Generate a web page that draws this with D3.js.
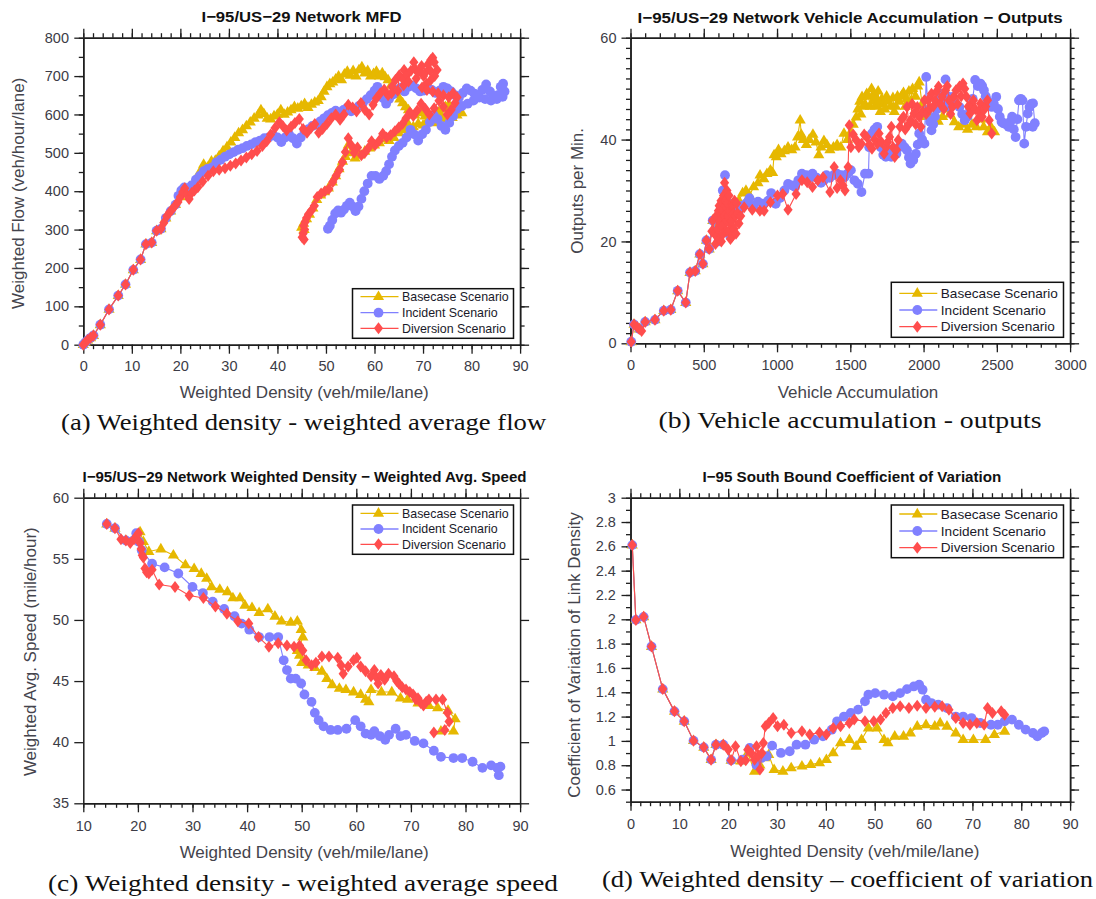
<!DOCTYPE html>
<html>
<head>
<meta charset="utf-8">
<script src="https://cdn.jsdelivr.net/npm/d3@7"></script>
<style>
  body { margin: 0; background: #fff; }
  svg { display: block; }
  .tick text { font-family: "Liberation Sans", Arial, sans-serif; }
</style>
</head>
<body>
<svg id="fig" width="1096" height="899"></svg>
<script>
// ---------- series shared by all panels ----------
const scenarioNames = ["Basecase Scenario", "Incident Scenario", "Diversion Scenario"];
const scenarioColors = ["#e6b800", "#8080ff", "#ff4d4d"];
const scenarioMarkers = ["triangle", "circle", "diamond"];

// ---------- (a) weighted density vs weighted flow ----------
const mfdXTicks = [0, 10, 20, 30, 40, 50, 60, 70, 80, 90];
const mfdYTicks = [0, 100, 200, 300, 400, 500, 600, 700, 800];
const mfdBasecase = [[0,0],[0.4,6],[0.9,12],[1.5,18],[2.1,24],[3.5,52],[5.3,92],[7.2,128],[8.7,157],[10.3,195],[11.8,222],[12.9,262],[14.1,266],[15.1,297],[16,302],[17,330],[18,348],[19,365],[20,385],[21,400],[22,412],[23,425],[24,450],[24.8,470],[25.6,462],[26.4,478],[27.2,480],[28,492],[28.8,505],[29.6,515],[30.4,528],[31.2,540],[32,552],[32.8,560],[33.6,570],[34.4,580],[35.2,590],[36,598],[36.6,612],[37.2,602],[37.9,590],[38.6,588],[39.3,596],[40,600],[40.7,612],[41.4,600],[42.1,606],[42.8,612],[43.5,620],[44.2,616],[44.9,622],[45.6,628],[46.3,618],[47,626],[47.7,632],[48.4,636],[49,646],[49.6,660],[50.2,672],[50.8,680],[51.4,684],[52,692],[52.6,700],[53.2,690],[53.8,705],[54.4,712],[55,702],[55.6,714],[56.2,700],[56.8,716],[57.4,724],[58,708],[58.6,714],[59.2,700],[59.8,706],[60.4,712],[61,700],[61.6,708],[62.2,698],[62.8,690],[63.4,676],[64,662],[64.6,652],[65.2,640],[65.8,630],[66.4,620],[67,612],[67.6,600],[68.3,598],[69,604],[69.7,610],[70.4,596],[71.1,588],[71.8,580],[72.5,596],[73.2,606],[73.9,614],[74.6,620],[75.3,626],[76,618],[76.7,610],[77.4,620],[78,604],[77,598],[76,592],[75,588],[74,592],[73,584],[72,578],[71,582],[70,572],[69,576],[68,568],[67,574],[66,560],[65,552],[64,540],[63,532],[62,536],[61,526],[60,520],[59,512],[58,504],[57,494],[56,486],[55.2,500],[54.6,520],[54,490],[53.4,478],[52.7,458],[52,440],[51.3,424],[50.5,408],[49.7,398],[48.9,390],[48.1,378],[47.3,356],[46.6,340],[46,328],[45.4,316],[45,306],[45.5,300]];
const mfdIncident = [[0,0],[0.4,6],[0.9,12],[1.5,18],[2.1,24],[3.5,52],[5.3,92],[7.2,128],[8.7,157],[10.3,195],[11.8,222],[12.9,262],[14.1,266],[15.1,297],[16,302],[17,330],[18,348],[19,365],[19.6,388],[20.2,402],[20.8,410],[21.5,398],[22.3,415],[23.2,430],[24,440],[24.8,452],[25.6,458],[26.5,462],[27.4,475],[28.3,482],[29.2,490],[30.1,496],[31,502],[31.9,508],[32.8,512],[33.7,518],[34.6,522],[35.5,528],[36.4,532],[37.3,538],[38.2,540],[39.1,546],[40,540],[40.8,528],[41.6,540],[42.4,548],[43.2,538],[44,524],[44.8,540],[45.6,556],[46.4,562],[47.2,570],[48,574],[48.8,582],[49.6,590],[50.4,598],[51.2,604],[52,610],[52.8,602],[53.6,612],[54.4,618],[55.2,608],[56,614],[56.8,622],[57.6,630],[58.4,640],[59.2,650],[60,662],[60.6,672],[61.2,660],[61.8,642],[62.4,628],[63,640],[63.8,652],[64.6,664],[65.4,670],[66.2,660],[67,672],[67.8,676],[68.6,668],[69.4,660],[70.2,662],[71,668],[71.8,664],[72.6,656],[73.4,662],[74.2,672],[75,668],[75.8,660],[76.6,650],[77.4,644],[78.2,656],[79,668],[79.8,662],[80.6,654],[81.4,650],[82.2,664],[83,678],[83.8,660],[84.6,648],[85.4,650],[86,672],[86.5,680],[86.8,660],[86.4,646],[85.2,640],[84,636],[82.8,640],[81.6,644],[80.4,636],[79.2,628],[78,622],[77,614],[76.2,596],[75.4,578],[74.6,560],[73.8,570],[73,588],[72.2,598],[71.4,580],[70.6,560],[69.8,548],[69,532],[68.2,548],[67.4,560],[66.6,540],[65.8,526],[65,518],[64.2,506],[63.6,490],[63,470],[62.4,452],[61.8,440],[61,432],[60.2,440],[59.4,440],[58.6,420],[57.9,400],[57.3,380],[56.7,360],[56.1,348],[55.5,360],[54.9,370],[54.3,362],[53.7,352],[53.1,344],[52.5,350],[51.9,342],[51.3,325],[50.8,310],[50.4,302]];
const mfdDiversion = [[0,0],[0.4,6],[0.9,12],[1.5,18],[2.1,24],[3.5,52],[5.3,92],[7.2,128],[8.7,157],[10.3,195],[11.8,222],[12.9,262],[14.1,266],[15.1,297],[16,302],[16.6,318],[17.2,335],[17.8,345],[18.3,352],[18.9,362],[19.5,372],[20,385],[20.5,398],[20.9,408],[21.3,392],[21.8,380],[22.3,395],[22.9,402],[23.6,410],[24.6,425],[25.7,440],[26.8,452],[28,456],[29.2,460],[30.3,466],[31.4,472],[32.5,480],[33.6,488],[34.7,496],[35.8,505],[36.9,518],[37.8,530],[38.6,548],[39.5,565],[40.4,580],[41.1,570],[41.9,558],[42.8,568],[43.6,578],[44.5,588],[45.3,562],[46.1,552],[46.9,565],[47.7,575],[48.5,552],[49.3,562],[50.2,575],[51.1,590],[52,600],[52.9,586],[53.7,600],[54.6,625],[55.5,618],[56.3,608],[57.2,630],[58,612],[58.9,600],[59.7,625],[60.4,642],[61.2,655],[62,665],[62.8,650],[63.6,672],[64.3,690],[63.5,655],[64.8,662],[65.1,702],[66,676],[65.9,692],[66.1,716],[66.7,704],[67,686],[67.5,714],[68.1,736],[68.3,720],[68.6,694],[69,710],[69.7,726],[70.1,700],[70.4,708],[71,730],[71.5,714],[71.6,742],[72,748],[72.3,736],[72.9,716],[72.4,700],[71.6,690],[70.7,680],[69.8,670],[70.8,664],[72,660],[73.1,655],[74.2,650],[75.3,645],[76.2,655],[77,645],[76.6,630],[75.8,612],[75,600],[74.2,620],[73.3,636],[72.3,616],[71.3,600],[70.5,614],[69.6,628],[68.8,610],[68,596],[67.3,606],[66.5,590],[65.8,576],[65,566],[64.2,556],[63.3,546],[62.5,540],[61.7,550],[61,532],[60.1,520],[59.4,530],[58.7,512],[58,500],[57.3,494],[56.5,514],[55.8,500],[55.2,520],[54.6,538],[54,502],[53.4,476],[52.8,456],[52.1,440],[51.4,424],[50.6,406],[49.8,400],[49,394],[48.2,385],[47.6,362],[47,350],[46.4,340],[46,330],[45.7,320],[45.4,310],[45.6,300],[45.3,290],[45.1,280],[45.5,274]];

// ---------- (b) vehicle accumulation vs outputs ----------
const accXTicks = [0, 500, 1000, 1500, 2000, 2500, 3000];
const accYTicks = [0, 20, 40, 60];
const accBasecase = [[5,0.3],[24,3.7],[60,2.8],[100,4.2],[167,4.6],[227,6.4],[275,6.6],[322,10.3],[377,8],[406,13.9],[442,14.2],[473,17.5],[494,15.6],[518,20.2],[537,18.5],[561,24.1],[590,23],[620,26],[650,28],[680,25],[710,27],[740,28],[765,29.5],[788,30],[812,29],[840,30.7],[870,31.5],[884,33],[910,32.3],[931,33.3],[955,34],[970,33.5],[980,37],[995,36.6],[1010,38],[1027,37.2],[1050,37.8],[1075,38.5],[1100,38],[1123,38.5],[1140,40.5],[1158,43.8],[1165,41],[1180,40],[1200,39],[1220,40],[1245,41],[1266,39.5],[1285,37],[1300,38.5],[1320,39.8],[1340,39],[1361,38],[1385,38.5],[1410,39],[1435,38.5],[1457,41.2],[1480,40],[1504,41.5],[1520,43],[1540,44.4],[1552,46],[1565,47.5],[1572,45],[1580,48.4],[1592,46.5],[1600,47],[1612,49],[1624,48.5],[1635,46.5],[1645,50],[1652,47.5],[1660,49],[1670,46.5],[1680,48],[1690,49.5],[1696,47],[1705,45.5],[1715,48],[1725,47],[1735,46],[1748,48.5],[1760,47.5],[1775,46.5],[1791,48.2],[1800,45.5],[1810,46.5],[1822,48.5],[1835,47.5],[1850,48.6],[1863,49.2],[1875,46.5],[1885,48],[1900,49.5],[1912,47.5],[1925,50],[1945,48.5],[1960,50.5],[1970,51.3],[1990,47],[2006,44.5],[2030,45],[2055,44],[2080,45],[2100,43.6],[2130,44.5],[2150,46],[2180,45],[2210,43.5],[2240,42.5],[2270,43],[2300,42],[2330,43],[2360,42.5],[2390,44],[2410,42.5],[2436,41.5],[2460,42.5],[2484,41.5]];
const accIncident = [[5,0.3],[24,3.7],[60,2.8],[100,4.2],[167,4.6],[227,6.4],[275,6.6],[322,10.3],[377,8],[406,13.9],[442,14.2],[473,17.5],[494,15.6],[518,20.2],[537,18.5],[561,24.1],[580,22],[600,20],[615,26],[630,30],[645,33],[655,28],[665,24],[680,21],[700,25],[720,27],[740,26],[760,27],[790,27.5],[812,28.5],[840,27],[870,27.8],[907,27.4],[940,28],[960,29.5],[991,27.4],[1020,28.5],[1050,30],[1075,31.3],[1100,31],[1123,30.7],[1145,32],[1170,33.3],[1200,33],[1220,32.5],[1242,33.3],[1270,32.5],[1300,31.5],[1320,32],[1337,33],[1360,32.5],[1385,33],[1409,33.3],[1440,33],[1460,32.6],[1481,33.3],[1504,34],[1528,32],[1552,31.3],[1576,29.7],[1600,33.3],[1624,33.3],[1629,38.5],[1648,41.2],[1665,42],[1684,42.5],[1708,38.5],[1725,37],[1743,36.6],[1760,38],[1779,36.6],[1797,38],[1815,37.2],[1833,38.5],[1851,39.2],[1870,38.5],[1887,37.9],[1900,36.5],[1911,35.3],[1930,36],[1947,37.2],[1960,39],[1970,41.2],[1990,40],[2006,39.2],[2018,52.3],[2030,45.8],[2045,43.5],[2054,41.8],[2066,43],[2078,44.5],[2090,46],[2102,47.7],[2120,49],[2138,47.7],[2150,51.8],[2162,48.5],[2174,46.4],[2186,47.5],[2197,48.4],[2220,47],[2245,46.4],[2263,45],[2281,43.8],[2300,44.5],[2317,45.8],[2335,48],[2352,51.7],[2370,50.5],[2388,51],[2400,50.5],[2412,49.7],[2424,48.5],[2436,47.7],[2450,47],[2465,46.4],[2480,47],[2496,48.4],[2508,46],[2520,44.5],[2532,43.5],[2544,43.2],[2562,43],[2580,42.5],[2592,43.5],[2604,44.5],[2616,42],[2628,40.5],[2640,44],[2651,47.7],[2663,48],[2675,47.7],[2687,39.2],[2699,42.5],[2711,45.1],[2723,46.4],[2735,47],[2747,47.1],[2759,43.2],[2745,42.5]];
const accDiversion = [[5,0.3],[24,3.7],[45,3.2],[60,2.8],[76,2.4],[100,4.2],[167,4.6],[227,6.4],[275,6.6],[322,10.3],[377,8],[406,13.9],[442,14.2],[473,17.5],[494,15.6],[518,20.2],[537,18.5],[555,22],[561,24.1],[573,21.5],[580,19.5],[585,25],[590,21],[595,22.5],[600,26],[605,27],[610,20.5],[612,24],[618,28],[620,20],[625,23],[628,26],[632,21.5],[635,29],[640,25],[642,31.5],[645,27],[648,28],[652,22],[655,24],[658,30],[662,27.5],[665,25],[668,22],[672,29],[675,26],[678,23.5],[682,20.5],[686,27],[690,24],[694,21],[698,27],[702,25.5],[706,22.5],[710,28],[715,25],[720,21.5],[725,27.5],[732,25.5],[740,23.5],[752,25],[776,26.7],[831,26.2],[883,26],[912,26],[955,27.7],[1003,29],[1039,29.3],[1075,26.2],[1130,29.3],[1170,32],[1206,31.6],[1242,30.7],[1278,32],[1314,32.6],[1361,29.7],[1390,34.6],[1410,30.5],[1433,32],[1450,31],[1464,30],[1485,34.6],[1493,42.8],[1504,38.5],[1520,41],[1540,39.9],[1558,38.5],[1576,39.2],[1595,41],[1612,40.5],[1630,39],[1648,38.2],[1666,40],[1684,39.2],[1696,41.2],[1712,39.5],[1731,37.2],[1745,38.5],[1755,39.5],[1768,40.5],[1780,42.5],[1792,38.5],[1803,36.6],[1815,38],[1827,39.9],[1839,42.5],[1850,44],[1863,44.5],[1875,42],[1887,46.4],[1900,43],[1911,43.8],[1922,47],[1935,45.1],[1946,43],[1958,46.4],[1970,44.5],[1982,42.5],[1994,45.5],[2006,47.7],[2018,45],[2030,47.7],[2042,46],[2054,49],[2066,46.5],[2078,47.7],[2090,49.5],[2102,50.4],[2114,47],[2126,48.4],[2138,46],[2150,49.7],[2162,50.5],[2174,47.7],[2185,45],[2197,46.4],[2209,48.5],[2221,49.7],[2233,47],[2245,50.4],[2257,48.5],[2269,51],[2281,50],[2293,48.4],[2305,46.5],[2317,45.1],[2328,47],[2340,47.7],[2352,46],[2364,43.8],[2376,45.5],[2388,47.1],[2400,44.5],[2412,45.8],[2424,46.5],[2436,47.7],[2448,43.8],[2465,41.2]];

// ---------- (c) weighted density vs weighted average speed ----------
const speedXTicks = [10, 20, 30, 40, 50, 60, 70, 80, 90];
const speedYTicks = [35, 40, 45, 50, 55, 60];
const speedBasecase = [[14.3,57.85],[15.8,57.5],[17.8,56.5],[19.5,56.6],[20.4,57.2],[21,56.4],[22,55.6],[24.2,55.8],[26.5,55.3],[28.7,54.5],[30.3,54.2],[31.6,53.8],[32.6,53.4],[33.5,52.7],[35,52.5],[36.4,52.3],[37.4,51.8],[38.7,51.8],[39.6,51.2],[40.9,51],[42.2,50.6],[43.8,50.9],[45.1,50.3],[46.3,49.9],[48,49.8],[49.2,49.9],[49.9,49.2],[50.2,48.6],[49.6,47.8],[49.2,47.5],[49.6,47.1],[50,46.5],[51.2,46.3],[52.4,46.1],[53.7,45.8],[54.6,45.2],[55.6,44.7],[56.9,44.4],[58.1,44.3],[59.5,44.1],[60.8,43.9],[61.7,43.5],[62.3,43.3],[62.7,44.3],[64.6,44.1],[66.5,44.1],[68.1,43.6],[69.4,43.5],[71.3,43.2],[73.3,43],[74.9,42.8],[76.8,42.6],[78.1,41.9],[77.8,40.9],[75.5,40.9]];
const speedIncident = [[14.3,57.85],[15.8,57.5],[17.8,56.5],[19.7,57.1],[20.2,56.4],[20.7,55.7],[22.6,54.6],[24.9,54.3],[27.4,53.8],[30,52.7],[31.9,52.2],[33.7,51.5],[35.8,50.9],[37.7,50.3],[39,49.7],[40.4,49.2],[42.2,48.6],[44.1,48.6],[45.7,48.6],[46.7,46.7],[47.3,45.9],[48,45.2],[48.9,45.2],[49.9,44.8],[50.5,43.9],[51.8,43.3],[52.4,42.4],[53.1,41.8],[54,41.3],[55.3,41],[56.6,41],[58.2,41.1],[59.8,41.8],[60.8,41.3],[61.7,40.7],[62.7,40.6],[63.3,40.9],[64.3,40.5],[65.3,40.2],[66,40.6],[67.2,41.1],[68.1,40.5],[69.1,40.6],[70.7,40.1],[72.3,39.9],[74.2,39.3],[75.5,38.8],[77.8,38.7],[79.4,38.7],[81.3,38.4],[83.1,37.9],[84.7,38.1],[85.8,37.9],[86.4,38],[86.1,37.3]];
const speedDiversion = [[14.3,57.85],[15.8,57.5],[16.9,56.6],[17.8,56.5],[18.6,56.3],[19.3,56.6],[19.8,56.9],[20.1,57.1],[20.4,56.3],[20.6,55.8],[20.8,55.3],[21,55.1],[21.3,54.2],[21.6,53.9],[22,53.8],[22.6,54.1],[23.9,52.9],[26.8,52.7],[29.4,52],[32,51.8],[34.2,51.1],[36.3,50.5],[38.3,49.9],[40.3,49.7],[42.1,48.6],[44,47.8],[45.7,48.1],[47.3,47.9],[48.6,47.8],[49.6,47.9],[50.2,47.5],[50.8,46.7],[51.8,46.3],[52.6,46.5],[53.7,47],[55,47],[56.6,46.9],[57.2,46.3],[57.6,45.6],[58.5,46.2],[59.5,46.7],[60.1,46.9],[60.8,46.2],[61.7,45.8],[62.7,45.4],[63.3,45.9],[63.7,45.3],[64,44.8],[64.5,45.5],[65.2,45.1],[65.9,45.6],[66.9,45.4],[67.4,45],[67.8,44.8],[68.4,44.5],[69.1,44.3],[69.8,44.1],[70.4,43.9],[70.9,43.5],[71.3,43.6],[71.8,43.2],[72.3,43],[72.8,43.3],[73.3,43.5],[74.6,43.5],[75.8,43.5],[76.7,42.4],[77,41.7],[76.2,41],[74.2,40.8]];

// ---------- (d) weighted density vs coefficient of variation ----------
const covXTicks = [0, 10, 20, 30, 40, 50, 60, 70, 80, 90];
const covYTicks = [0.6, 0.8, 1, 1.2, 1.4, 1.6, 1.8, 2, 2.2, 2.4, 2.6, 2.8, 3];
const covBasecase = [[0.36,2.61],[1.1,1.995],[2.7,2.02],[4.3,1.776],[6.6,1.426],[9,1.243],[11,1.161],[12.9,1.002],[15,0.947],[16.5,0.846],[17.5,0.969],[19,0.969],[20.6,0.84],[22.6,0.833],[24,0.9],[25.4,0.75],[26.5,0.8],[27.5,0.86],[28.3,0.887],[29.4,0.764],[31.2,0.75],[32.9,0.778],[35.1,0.792],[36.9,0.805],[38.7,0.819],[40.1,0.846],[41.5,0.901],[43,0.983],[44.8,1.01],[46.2,0.956],[47.3,1.01],[48.7,1.106],[50.5,1.106],[51.9,1.01],[52.7,0.983],[54.1,1.038],[55.9,1.038],[57.3,1.065],[58.7,1.12],[60.5,1.133],[62.3,1.12],[63.4,1.147],[64.8,1.12],[66.6,1.065],[68.1,1.01],[70.2,1.01],[72.7,1.01],[74.5,1.052],[76.6,1.079]];
const covIncident = [[0.36,2.61],[1.1,1.995],[2.7,2.02],[4.3,1.776],[6.6,1.426],[9,1.243],[11,1.161],[12.9,1.002],[15,0.947],[16.5,0.846],[17.5,0.969],[19,0.969],[20.6,0.84],[22.9,0.846],[24.4,0.942],[25.8,0.8],[26.8,0.86],[27.9,0.874],[29,0.961],[30.8,0.901],[32.6,0.915],[34,0.969],[35.8,0.969],[37.6,1.01],[39.4,1.038],[41.2,1.092],[42.3,1.161],[43.7,1.2],[45.1,1.23],[46.6,1.257],[48,1.325],[48.7,1.38],[50.1,1.393],[51.9,1.38],[53.7,1.366],[55.2,1.393],[56.6,1.426],[58,1.448],[59.1,1.462],[59.8,1.421],[60.5,1.339],[61.6,1.311],[63,1.298],[64.8,1.27],[66.6,1.2],[68.1,1.2],[69.8,1.188],[71.6,1.147],[73.8,1.133],[75.2,1.133],[76.6,1.161],[78.1,1.175],[79.5,1.133],[80.9,1.093],[82.4,1.065],[83.3,1.038],[84.2,1.065],[84.7,1.079]];
const covDiversion = [[0.36,2.61],[1.1,1.995],[2.7,2.02],[4.3,1.776],[6.6,1.426],[9,1.243],[11,1.161],[12.9,1.002],[15,0.947],[16.5,0.846],[17.5,0.969],[19,0.969],[20,0.93],[20.6,0.84],[21.5,0.956],[22.6,0.833],[23.6,0.84],[24,0.928],[24.7,0.9],[25.4,0.846],[25.8,0.956],[26.2,0.88],[26.5,0.764],[26.9,0.9],[27.2,0.983],[27.6,1.12],[28.3,1.147],[29.2,1.188],[30.1,1.12],[31.4,1.133],[32.9,1.065],[35.1,1.079],[36.7,1.052],[38.7,1.07],[40.1,1.052],[41.5,1.106],[43,1.12],[44.8,1.147],[45.8,1.175],[48,1.161],[49.8,1.161],[51.2,1.175],[52.3,1.23],[53.7,1.27],[55.2,1.284],[57,1.27],[58.7,1.29],[60.5,1.27],[62.3,1.28],[63.8,1.284],[65.2,1.257],[66.6,1.188],[68.1,1.147],[69.5,1.133],[70.9,1.147],[72.4,1.133],[73.1,1.27],[74.1,1.23],[75.9,1.243],[76.6,1.216]];

// ---------- layout of the four panels ----------
const FONT = "'Liberation Sans', Arial, Helvetica, sans-serif";
const SERIF = "'Liberation Serif', 'Times New Roman', serif";

const panels = [
  {
    box: { left: 83.3, right: 520.1, top: 37.7, bottom: 344.7 },
    xDomain: [0, 90], yDomain: [0, 800],
    xTicks: mfdXTicks, yTicks: mfdYTicks, xStep: 2, yStep: 50,
    series: [mfdBasecase, mfdIncident, mfdDiversion],
    title: "I\u221295/US\u221229 Network MFD", titlePos: [301.5, 21.7], titleLen: 200,
    xLabel: "Weighted Density (veh/mile/lane)", xLabelPos: [304.2, 398.3],
    yLabel: "Weighted Flow (veh/hour/lane)", yLabelPos: [23.8, 193.3],
    caption: "(a) Weighted density - weighted average flow", captionPos: [303.6, 430], captionLen: 485,
    xPad: 7, yPad: 5.3,
    legend: { x: 352.5, y: 288.7, w: 161, h: 49.6, font: 12.4, rows: [8, 24, 39.6] }
  },
  {
    box: { left: 630.5, right: 1070.1, top: 37.7, bottom: 343.3 },
    xDomain: [0, 3000], yDomain: [0, 60],
    xTicks: accXTicks, yTicks: accYTicks, xStep: 100, yStep: 2,
    series: [accBasecase, accIncident, accDiversion],
    title: "I\u221295/US\u221229 Network Vehicle Accumulation \u2212 Outputs", titlePos: [850.1, 23.3], titleLen: 425,
    xLabel: "Vehicle Accumulation", xLabelPos: [858, 398.3],
    yLabel: "Outputs per Min.", yLabelPos: [583, 190.8],
    caption: "(b) Vehicle accumulation - outputs", captionPos: [850, 428.3], captionLen: 383,
    xPad: 7.5, yPad: 5,
    legend: { x: 891.3, y: 282.3, w: 172.2, h: 55, font: 13.6, rows: [11, 27.7, 44.4] }
  },
  {
    box: { left: 83.3, right: 520.1, top: 497.7, bottom: 803.3 },
    xDomain: [10, 90], yDomain: [35, 60],
    xTicks: speedXTicks, yTicks: speedYTicks, xStep: 2, yStep: null,
    series: [speedBasecase, speedIncident, speedDiversion],
    title: "I\u221295/US\u221229 Network Weighted Density \u2212 Weighted Avg. Speed", titlePos: [304.5, 482.3], titleLen: 444,
    xLabel: "Weighted Density (veh/mile/lane)", xLabelPos: [304.2, 858.3],
    yLabel: "Weighted Avg. Speed (mile/hour)", yLabelPos: [36, 651.7],
    caption: "(c) Weighted density - weighted average speed", captionPos: [303, 890.7], captionLen: 510,
    xPad: 8.5, yPad: 5.3,
    legend: { x: 352.5, y: 505, w: 161, h: 49.3, font: 12.4, rows: [8.3, 24, 39.3] }
  },
  {
    box: { left: 630.5, right: 1070.1, top: 497.7, bottom: 801.7 },
    xDomain: [0, 90], yDomain: [0.5, 3],
    xTicks: covXTicks, yTicks: covYTicks, xStep: 2, yStep: 0.1,
    series: [covBasecase, covIncident, covDiversion],
    title: "I\u221295 South Bound Coefficient of Variation", titlePos: [851.9, 482.3], titleLen: 299,
    xLabel: "Weighted Density (veh/mile/lane)", xLabelPos: [854.8, 857.3],
    yLabel: "Coefficient of Variation of Link Density", yLabelPos: [579.8, 655],
    caption: "(d) Weighted density \u2013 coefficient of variation", captionPos: [847.5, 886.7], captionLen: 491,
    xPad: 8.5, yPad: 5.7,
    legend: { x: 891.3, y: 505, w: 172.2, h: 52.7, font: 13.6, rows: [9, 26, 42.7] }
  }
];

const svg = d3.select("#fig");

// marker shapes, centred on the data point
function markerPath(kind) {
  if (kind === "triangle") return "M0,-6.2L5.6,3.4L-5.6,3.4Z";
  if (kind === "diamond") return "M0,-6L4.6,0L0,6L-4.6,0Z";
  return null;
}
function addMarker(sel, kind, color) {
  if (kind === "circle") {
    sel.append("circle").attr("r", 4.9).attr("fill", color);
  } else {
    sel.append("path").attr("d", markerPath(kind)).attr("fill", color);
  }
}

function minorValues(domain, step) {
  const out = [];
  const n = Math.round((domain[1] - domain[0]) / step);
  for (let i = 0; i <= n; i++) out.push(+(domain[0] + i * step).toFixed(6));
  return out;
}

function styleAxis(g, fontSize) {
  g.select(".domain").attr("stroke", "#1e1e1e").attr("stroke-width", 1.5);
  g.selectAll(".tick line").attr("stroke", "#1e1e1e").attr("stroke-width", 1.3);
  g.selectAll(".tick text")
    .attr("fill", "#3c3c46")
    .style("font-family", FONT)
    .style("font-size", fontSize + "px");
}

function drawPanel(p) {
  const g = svg.append("g");
  const b = p.box;
  const x = d3.scaleLinear().domain(p.xDomain).range([b.left, b.right]);
  const y = d3.scaleLinear().domain(p.yDomain).range([b.bottom, b.top]);
  const fmt = v => String(+v.toFixed(1));

  // minor ticks on all four sides
  const xMinor = p.xStep ? minorValues(p.xDomain, p.xStep) : [];
  const yMinor = p.yStep ? minorValues(p.yDomain, p.yStep) : [];
  const sides = [
    { gen: d3.axisBottom(x), tr: `translate(0,${b.bottom})`, major: p.xTicks, minor: xMinor, label: true, pad: p.xPad },
    { gen: d3.axisTop(x), tr: `translate(0,${b.top})`, major: p.xTicks, minor: xMinor, label: false, pad: 3 },
    { gen: d3.axisLeft(y), tr: `translate(${b.left},0)`, major: p.yTicks, minor: yMinor, label: true, pad: p.yPad },
    { gen: d3.axisRight(y), tr: `translate(${b.right},0)`, major: p.yTicks, minor: yMinor, label: false, pad: 3 }
  ];
  sides.forEach(s => {
    if (s.minor.length) {
      const mg = g.append("g").attr("transform", s.tr)
        .call(s.gen.tickValues(s.minor).tickSize(4.5).tickSizeOuter(0).tickFormat(""));
      styleAxis(mg, 14.5);
    }
    const ag = g.append("g").attr("transform", s.tr)
      .call(s.gen.tickValues(s.major).tickSize(9).tickSizeOuter(0)
        .tickPadding(s.pad).tickFormat(s.label ? fmt : ""));
    styleAxis(ag, 14.5);
  });

  // data: line then markers, series drawn in legend order
  const line = d3.line().x(d => x(d[0])).y(d => y(d[1]));
  p.series.forEach((data, i) => {
    const color = scenarioColors[i];
    const sg = g.append("g");
    sg.append("path").datum(data).attr("d", line)
      .attr("fill", "none").attr("stroke", color).attr("stroke-width", 1.1);
    const pts = sg.selectAll("g.pt").data(data).join("g")
      .attr("class", "pt")
      .attr("transform", d => `translate(${x(d[0])},${y(d[1])})`);
    pts.each(function () { addMarker(d3.select(this), scenarioMarkers[i], color); });
  });

  // legend
  const L = p.legend;
  const lg = g.append("g").attr("transform", `translate(${L.x},${L.y})`);
  lg.append("rect").attr("width", L.w).attr("height", L.h)
    .attr("fill", "#fff").attr("stroke", "#111").attr("stroke-width", 1.5);
  scenarioNames.forEach((name, i) => {
    const row = lg.append("g").attr("transform", `translate(0,${L.rows[i]})`);
    row.append("line").attr("x1", 8).attr("x2", 46).attr("y1", 0).attr("y2", 0)
      .attr("stroke", scenarioColors[i]).attr("stroke-width", 1.3);
    const m = row.append("g").attr("transform", "translate(26,0)");
    addMarker(m, scenarioMarkers[i], scenarioColors[i]);
    row.append("text").attr("x", 49.5).attr("y", 0).attr("dy", "0.35em")
      .style("font-family", FONT).style("font-size", L.font + "px")
      .attr("fill", "#1a1a2a").text(name);
  });

  // title, axis labels, caption
  g.append("text").attr("x", p.titlePos[0]).attr("y", p.titlePos[1])
    .attr("text-anchor", "middle").style("font-family", FONT).style("font-size", "15.5px")
    .style("font-weight", "bold").attr("fill", "#111")
    .attr("textLength", p.titleLen).attr("lengthAdjust", "spacingAndGlyphs").text(p.title);
  g.append("text").attr("x", p.xLabelPos[0]).attr("y", p.xLabelPos[1])
    .attr("text-anchor", "middle").style("font-family", FONT).style("font-size", "17px")
    .attr("fill", "#44444c").text(p.xLabel);
  g.append("text").attr("transform", `translate(${p.yLabelPos[0]},${p.yLabelPos[1]}) rotate(-90)`)
    .attr("text-anchor", "middle").style("font-family", FONT).style("font-size", "17px")
    .attr("fill", "#44444c").text(p.yLabel);
  g.append("text").attr("x", p.captionPos[0]).attr("y", p.captionPos[1])
    .attr("text-anchor", "middle").style("font-family", SERIF).style("font-size", "23px")
    .attr("fill", "#111").attr("textLength", p.captionLen).attr("lengthAdjust", "spacingAndGlyphs")
    .text(p.caption);
}

panels.forEach(drawPanel);
</script>
</body>
</html>
